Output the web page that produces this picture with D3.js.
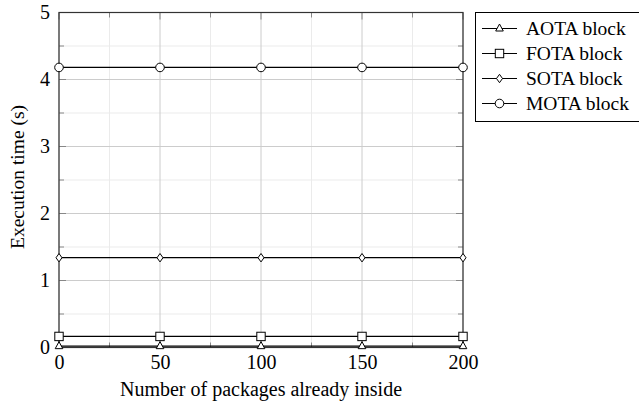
<!DOCTYPE html>
<html><head><meta charset="utf-8">
<script src="https://cdn.jsdelivr.net/npm/d3@7"></script>
<style>body{margin:0;background:#fff}svg{display:block}text{font-family:"Liberation Serif","Times New Roman",serif;fill:#000}</style>
</head><body><svg id="c" width="639" height="403"></svg>
<script>
const xValues = [0, 50, 100, 150, 200];
const seriesNames = ["AOTA block", "FOTA block", "SOTA block", "MOTA block"];
const seriesMarkers = ["triangle", "square", "diamond", "circle"];
const aota = [0.02, 0.02, 0.02, 0.02, 0.02];
const fota = [0.165, 0.165, 0.165, 0.165, 0.165];
const sota = [1.34, 1.34, 1.34, 1.34, 1.34];
const mota = [4.18, 4.18, 4.18, 4.18, 4.18];
const seriesValues = [aota, fota, sota, mota];
const xTicks = [0, 50, 100, 150, 200];
const xMinorTicks = [25, 75, 125, 175];
const yTicks = [0, 1, 2, 3, 4, 5];
const yMinorTicks = [0.5, 1.5, 2.5, 3.5, 4.5];

const svg = d3.select("#c");
const L = 59, R = 463, T = 12.5, B = 347.5;
const x = d3.scaleLinear().domain([0, 200]).range([L, R]);
const y = d3.scaleLinear().domain([0, 5]).range([B, T]);

// grid
const g = svg.append("g");
g.selectAll(".gxm").data(xMinorTicks).enter().append("line")
  .attr("x1", d => x(d)).attr("x2", d => x(d)).attr("y1", T).attr("y2", B)
  .attr("stroke", "#ebebeb").attr("stroke-width", 1);
g.selectAll(".gym").data(yMinorTicks).enter().append("line")
  .attr("y1", d => y(d)).attr("y2", d => y(d)).attr("x1", L).attr("x2", R)
  .attr("stroke", "#ebebeb").attr("stroke-width", 1);
g.selectAll(".gx").data(xTicks).enter().append("line")
  .attr("x1", d => x(d)).attr("x2", d => x(d)).attr("y1", T).attr("y2", B)
  .attr("stroke", "#cccccc").attr("stroke-width", 1);
g.selectAll(".gy").data(yTicks).enter().append("line")
  .attr("y1", d => y(d)).attr("y2", d => y(d)).attr("x1", L).attr("x2", R)
  .attr("stroke", "#cccccc").attr("stroke-width", 1);

// tick marks (inside, all four sides)
const tk = svg.append("g").attr("stroke", "#888").attr("stroke-width", 1);
function xt(vals, len) {
  vals.forEach(v => {
    tk.append("line").attr("x1", x(v)).attr("x2", x(v)).attr("y1", B).attr("y2", B - len);
    tk.append("line").attr("x1", x(v)).attr("x2", x(v)).attr("y1", T).attr("y2", T + len);
  });
}
function yt(vals, len) {
  vals.forEach(v => {
    tk.append("line").attr("y1", y(v)).attr("y2", y(v)).attr("x1", L).attr("x2", L + len);
    tk.append("line").attr("y1", y(v)).attr("y2", y(v)).attr("x1", R).attr("x2", R - len);
  });
}
xt(xTicks, 7); xt(xMinorTicks, 5); yt(yTicks, 7); yt(yMinorTicks, 5);

// frame
svg.append("rect").attr("x", L).attr("y", T).attr("width", R - L).attr("height", B - T)
  .attr("fill", "none").attr("stroke", "#333").attr("stroke-width", 1.2);

// axes labels (ticks)
const xAxis = d3.axisBottom(x).tickValues(xTicks).tickSize(0).tickPadding(7.5).tickFormat(d3.format("d"));
const xa = svg.append("g").attr("transform", `translate(0,${B})`).call(xAxis);
xa.select(".domain").remove();
xa.selectAll("text").style("font-size", "20px").style("font-family", "Liberation Serif");
const yAxis = d3.axisLeft(y).tickValues(yTicks).tickSize(0).tickPadding(9).tickFormat(d3.format("d"));
const ya = svg.append("g").attr("transform", `translate(${L},0)`).call(yAxis);
ya.select(".domain").remove();
ya.selectAll("text").style("font-size", "20px").style("font-family", "Liberation Serif");

svg.append("text").attr("x", (L + R) / 2).attr("y", 396).attr("text-anchor", "middle")
  .style("font-size", "20px").text("Number of packages already inside");
svg.append("text").attr("transform", `translate(23.5,177) rotate(-90)`).attr("text-anchor", "middle")
  .style("font-size", "19.5px").text("Execution time (s)");

// markers
function marker(sel, type, cx, cy) {
  if (type === "circle") {
    sel.append("circle").attr("cx", cx).attr("cy", cy).attr("r", 4.3);
  } else if (type === "square") {
    sel.append("rect").attr("x", cx - 4.2).attr("y", cy - 4.2).attr("width", 8.4).attr("height", 8.4);
  } else if (type === "diamond") {
    sel.append("path").attr("d", `M${cx},${cy - 4.2}L${cx + 3},${cy}L${cx},${cy + 4.2}L${cx - 3},${cy}Z`);
  } else {
    sel.append("path").attr("d", `M${cx},${cy - 4.5}L${cx + 3.8},${cy + 2.5}L${cx - 3.8},${cy + 2.5}Z`);
  }
}

const line = d3.line().x((d, i) => x(xValues[i])).y(d => y(d));
seriesValues.forEach((vals, si) => {
  const sg = svg.append("g");
  sg.append("path").attr("d", line(vals)).attr("fill", "none").attr("stroke", "#000").attr("stroke-width", 1.2);
  const mg = sg.append("g").attr("fill", "#fff").attr("stroke", "#000").attr("stroke-width", 1);
  vals.forEach((v, i) => marker(mg, seriesMarkers[si], x(xValues[i]), y(v)));
});

// legend
const lg = svg.append("g");
lg.append("rect").attr("x", 475.5).attr("y", 12.5).attr("width", 170).attr("height", 109)
  .attr("fill", "#fff").attr("stroke", "#000").attr("stroke-width", 1);
seriesNames.forEach((name, i) => {
  const cy = 28.5 + i * 25;
  lg.append("line").attr("x1", 482).attr("x2", 517).attr("y1", cy).attr("y2", cy)
    .attr("stroke", "#000").attr("stroke-width", 1.2);
  const mg = lg.append("g").attr("fill", "#fff").attr("stroke", "#000").attr("stroke-width", 1);
  marker(mg, seriesMarkers[i], 499.5, cy);
  lg.append("text").attr("x", 526).attr("y", cy + 6.5).style("font-size", "19.5px").text(name);
});
</script></body></html>
